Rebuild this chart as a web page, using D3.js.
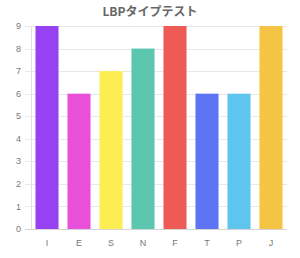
<!DOCTYPE html>
<html>
<head>
<meta charset="utf-8">
<script src="https://cdn.jsdelivr.net/npm/d3@7"></script>
<style>
  body { margin: 0; background: #fff; }
  svg text { font-family: "Liberation Sans", Arial, sans-serif; }
  svg text.title { font-family: "Noto Sans CJK JP", sans-serif; }
</style>
</head>
<body>
<svg id="chart" width="300" height="258"></svg>
<script>
var labels = ["I", "E", "S", "N", "F", "T", "P", "J"]
var values = [9, 6, 7, 8, 9, 6, 6, 9]
var colors = ["#9642f2", "#e94fd9", "#fcee52", "#5cc6ae", "#ee5b56", "#5d74f5", "#5dc5ee", "#f6c444"]
var yTicks = [0, 1, 2, 3, 4, 5, 6, 7, 8, 9]

var margin = {top: 26, right: 13, bottom: 29, left: 31}
var width = 300 - margin.left - margin.right
var height = 258 - margin.top - margin.bottom

var svg = d3.select("#chart")

svg.append("text")
    .attr("class", "title")
    .attr("x", 150)
    .attr("y", 16)
    .attr("text-anchor", "middle")
    .style("font-size", "12px")
    .style("font-weight", "bold")
    .style("fill", "#666")
    .text("LBPタイプテスト")

var g = svg.append("g")
    .attr("transform", "translate(" + margin.left + "," + margin.top + ")")

var xScale = d3.scaleBand()
    .domain(labels)
    .range([0, width])
    .paddingInner(0)

var yScale = d3.scaleLinear()
    .domain([0, 9])
    .range([height, 0])

// grid lines
g.selectAll(".grid")
    .data(yTicks)
    .enter().append("line")
    .attr("x1", -6)
    .attr("x2", width)
    .attr("y1", function (d) { return Math.round(yScale(d)) + 0.5 })
    .attr("y2", function (d) { return Math.round(yScale(d)) + 0.5 })
    .attr("stroke", function (d) { return d == 0 ? "#d4d4d4" : "#e8e8e8" })
    .attr("stroke-width", 1)

g.append("line")
    .attr("x1", 0.5).attr("x2", 0.5)
    .attr("y1", 0).attr("y2", height)
    .attr("stroke", "#e0e0e0")

g.selectAll(".ylab")
    .data(yTicks)
    .enter().append("text")
    .attr("x", -10)
    .attr("y", function (d) { return yScale(d) })
    .attr("dy", "0.35em")
    .attr("text-anchor", "end")
    .style("font-size", "9px")
    .style("fill", "#777")
    .text(function (d) { return d })

var bw = xScale.bandwidth() * 0.72
g.selectAll(".bar")
    .data(values)
    .enter().append("rect")
    .attr("x", function (d, i) { return xScale(labels[i]) + (xScale.bandwidth() - bw) / 2 })
    .attr("y", function (d) { return yScale(d) })
    .attr("width", bw)
    .attr("height", function (d) { return height - yScale(d) })
    .attr("fill", function (d, i) { return colors[i] })

g.selectAll(".xlab")
    .data(labels)
    .enter().append("text")
    .attr("x", function (d) { return xScale(d) + xScale.bandwidth() / 2 })
    .attr("y", height + 17)
    .attr("text-anchor", "middle")
    .style("font-size", "9px")
    .style("fill", "#777")
    .text(function (d) { return d })
</script>
</body>
</html>
